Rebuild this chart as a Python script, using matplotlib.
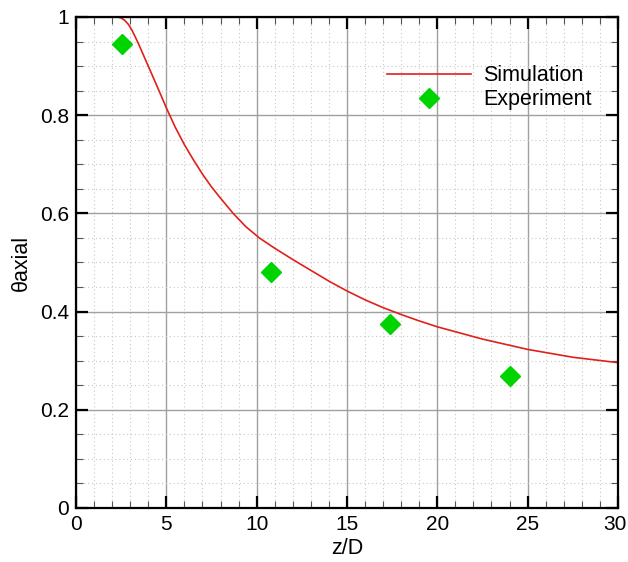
import matplotlib
matplotlib.use("Agg")
import matplotlib.pyplot as plt
from matplotlib.ticker import MultipleLocator

plt.rcParams['font.family'] = ['Liberation Sans', 'DejaVu Sans']

sim_x = [2.3, 2.5, 2.7, 2.9, 3.1, 3.3, 3.5, 4.0, 4.5, 5.0, 5.5, 6.0, 6.5, 7.0,
         7.5, 8.0, 8.7, 9.4, 10.15, 11.0, 12.0, 13.0, 14.0, 15.0, 16.0, 17.0,
         18.0, 19.0, 20.0, 22.5, 25.0, 27.5, 30.0]
sim_y = [1.0, 0.998, 0.993, 0.985, 0.973, 0.958, 0.942, 0.9, 0.858, 0.815,
         0.775, 0.74, 0.709, 0.68, 0.654, 0.631, 0.60, 0.573, 0.55, 0.529,
         0.506, 0.484, 0.462, 0.442, 0.424, 0.408, 0.394, 0.381, 0.369, 0.344,
         0.323, 0.307, 0.296]

exp_x = [2.55, 10.8, 17.4, 24.05]
exp_y = [0.945, 0.48, 0.374, 0.268]

x_ticks = [0, 5, 10, 15, 20, 25, 30]
x_tick_labels = ['0', '5', '10', '15', '20', '25', '30']
y_ticks = [0, 0.2, 0.4, 0.6, 0.8, 1.0]
y_tick_labels = ['0', '0.2', '0.4', '0.6', '0.8', '1']

fig = plt.figure(figsize=(6.28, 5.62), dpi=100)
ax = fig.add_axes([0.121, 0.0961, 0.863, 0.8737])

ax.set_xlim(0, 30)
ax.set_ylim(0, 1)
ax.set_xticks(x_ticks, [lbl if t != x_ticks[-1] else '' for t, lbl in zip(x_ticks, x_tick_labels)])
ax.xaxis.set_minor_locator(MultipleLocator(1))
ax.set_yticks(y_ticks, y_tick_labels)
ax.yaxis.set_minor_locator(MultipleLocator(0.05))

ax.grid(which='major', color='#a0a0a0', linewidth=1.0, linestyle='-')
ax.grid(which='minor', color='#c8c8c8', linewidth=0.8, linestyle=(0, (1, 2.5)))
ax.set_axisbelow(True)

ax.tick_params(which='major', direction='in', length=8.5, width=1.6,
               top=True, right=True, labelsize=15, pad=5)
ax.tick_params(which='minor', direction='in', length=5, width=0.8,
               top=True, right=True, color='#555555')
for s in ax.spines.values():
    s.set_linewidth(1.6)

# last x tick label, nudged left so it stays inside the figure
ax.annotate(x_tick_labels[-1], xy=(x_ticks[-1], 0), xycoords=('data', 'axes fraction'),
            xytext=(6, -5), textcoords='offset points', ha='right', va='top',
            fontsize=15)

ax.plot(sim_x, sim_y, color='#e0201b', linewidth=1.2, label='Simulation')
ax.plot(exp_x, exp_y, linestyle='none', marker='D', markersize=10,
        color='#00d400', markeredgecolor='#00d400', label='Experiment')

ax.set_xlabel('z/D', fontsize=15.5, labelpad=3)
ax.set_ylabel('θaxial', fontsize=15.5, labelpad=6)

leg = ax.legend(loc='upper left', bbox_to_anchor=(0.574, 0.902), frameon=False,
                fontsize=15.5, handlelength=3.9, handletextpad=0.55,
                labelspacing=0.15, borderaxespad=0, borderpad=0, numpoints=1)

fig.savefig('out.png', dpi=100)
